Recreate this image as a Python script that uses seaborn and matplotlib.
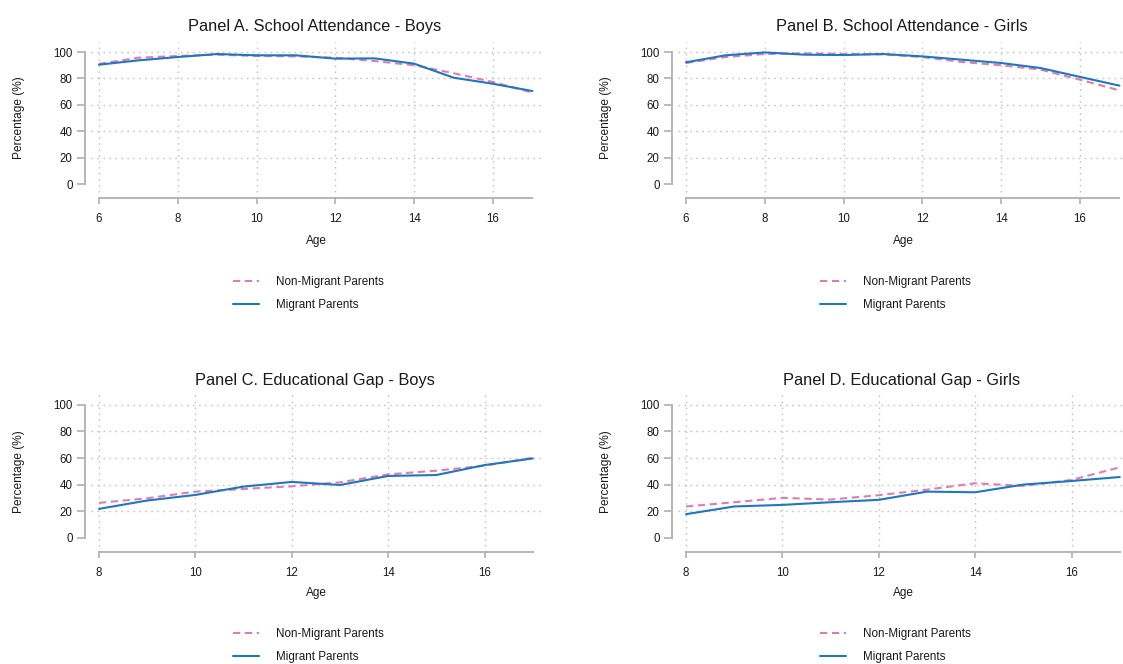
import pandas as pd
import seaborn as sns
import matplotlib.pyplot as plt

# Data
ages_att = [6, 7, 8, 9, 10, 11, 12, 13, 14, 15, 16, 17]
ages_gap = [8, 9, 10, 11, 12, 13, 14, 15, 16, 17]

att_boys_nonmig = [91.0, 95.7, 97.0, 98.0, 97.0, 96.7, 95.7, 93.2, 90.0, 84.0, 77.3, 69.3]
att_boys_mig = [90.4, 93.7, 96.2, 98.5, 97.5, 97.5, 95.0, 95.2, 91.2, 80.6, 76.0, 70.5]
att_girls_nonmig = [91.7, 96.2, 98.5, 99.0, 98.5, 98.2, 96.2, 92.5, 90.0, 86.7, 79.1, 71.0]
att_girls_mig = [92.2, 97.5, 99.7, 98.0, 97.7, 98.5, 96.7, 94.2, 91.7, 87.9, 81.2, 74.6]

gap_boys_nonmig = [26.2, 29.7, 34.7, 36.7, 38.7, 41.7, 47.7, 50.5, 54.2, 60.2]
gap_boys_mig = [21.7, 28.0, 32.2, 38.5, 42.0, 39.7, 46.5, 47.2, 54.7, 59.7]
gap_girls_nonmig = [23.5, 26.7, 30.0, 28.7, 32.0, 36.2, 41.0, 39.0, 43.5, 53.0]
gap_girls_mig = [17.7, 23.5, 24.7, 26.7, 28.5, 34.7, 34.2, 40.0, 42.7, 45.7]

groups = ["Non-Migrant Parents", "Migrant Parents"]
yticks = [0, 20, 40, 60, 80, 100]

sns.set_style("white")
plt.rcParams["font.family"] = ["Liberation Sans", "DejaVu Sans"]

W, H = 1123, 664
fig = plt.figure(figsize=(W / 100, H / 100), dpi=100)

palette = {"Non-Migrant Parents": "#e07bb4", "Migrant Parents": "#1f77bf"}
dashes = {"Non-Migrant Parents": (3.5, 2.2), "Migrant Parents": ""}
grey = "#b5b5b5"
txt = "#1a1a1a"

# title, ages, series, axes box in px (left, top, right, bottom), xlim, ylim, xticks,
# xlabel offset px, legend offset px
panels = [
    ("Panel A. School Attendance - Boys", ages_att, att_boys_nonmig, att_boys_mig,
     (91, 41.7, 545, 197.7), (5.80, 17.32), (-10.1, 107.8), [6, 8, 10, 12, 14, 16], 37, 78),
    ("Panel B. School Attendance - Girls", ages_att, att_girls_nonmig, att_girls_mig,
     (678, 41.7, 1132, 197.7), (5.80, 17.32), (-10.1, 107.8), [6, 8, 10, 12, 14, 16], 37, 78),
    ("Panel C. Educational Gap - Boys", ages_gap, gap_boys_nonmig, gap_boys_mig,
     (91, 395, 545, 552), (7.834, 17.254), (-10.8, 107.5), [8, 10, 12, 14, 16], 35, 76),
    ("Panel D. Educational Gap - Girls", ages_gap, gap_girls_nonmig, gap_girls_mig,
     (678, 395, 1132, 552), (7.834, 17.254), (-10.8, 107.5), [8, 10, 12, 14, 16], 35, 76),
]

for title, ages, nonmig, mig, box, xlim, ylim, xticks, xl_off, lg_off in panels:
    left, top, right, bottom = box
    ax = fig.add_axes([left / W, 1 - bottom / H, (right - left) / W, (bottom - top) / H])

    df = pd.DataFrame({
        "Age": ages + ages,
        "Percentage": nonmig + mig,
        "Group": [groups[0]] * len(ages) + [groups[1]] * len(ages),
    })

    # dotted grid (no line at 0)
    for yv in yticks[1:]:
        ax.axhline(yv, color="#c4c4c4", lw=1.0, ls=(0, (1.2, 3.1)), zorder=0)
    for xv in xticks:
        ax.axvline(xv, color="#c4c4c4", lw=1.0, ls=(0, (1.2, 3.1)), zorder=0)

    sns.lineplot(data=df, x="Age", y="Percentage", hue="Group", style="Group",
                 hue_order=groups, style_order=groups, palette=palette,
                 dashes=dashes, linewidth=1.5, ax=ax)

    ax.set_xlim(*xlim)
    ax.set_ylim(*ylim)
    ax.set_xticks(xticks)
    ax.set_yticks(yticks)

    for s in ["top", "right"]:
        ax.spines[s].set_visible(False)
    ax.spines["left"].set_position(("outward", 4.3))
    ax.spines["left"].set_bounds(0, 100)
    ax.spines["bottom"].set_bounds(xticks[0], 17)
    for s in ["left", "bottom"]:
        ax.spines[s].set_color(grey)
        ax.spines[s].set_linewidth(1.4)

    ax.tick_params(axis="y", direction="out", length=5.8, width=1.3, color=grey,
                   labelsize=8.3, labelcolor=txt, pad=3, left=True)
    ax.tick_params(axis="x", direction="out", length=4.3, width=1.3, color=grey,
                   labelsize=8.3, labelcolor=txt, pad=6.5, bottom=True)

    ax.set_title(title, fontsize=11.8, color=txt, x=0.493, pad=7.5)
    ax.set_xlabel("Age", fontsize=8.5, color=txt)
    ax.set_ylabel("Percentage (%)", fontsize=8.6, color=txt)
    h = bottom - top
    ax.xaxis.set_label_coords(0.496, -(xl_off / h))
    ax.yaxis.set_label_coords(-0.145, 0.512)

    handles, labels = ax.get_legend_handles_labels()
    ax.legend(handles, labels, loc="upper left",
              bbox_to_anchor=(142 / (right - left), -(lg_off / h)),
              frameon=False, fontsize=8.4, handlelength=2.2, handletextpad=1.45,
              labelspacing=0.98, borderpad=0, borderaxespad=0, labelcolor=txt)

fig.savefig("out.png", dpi=100)
